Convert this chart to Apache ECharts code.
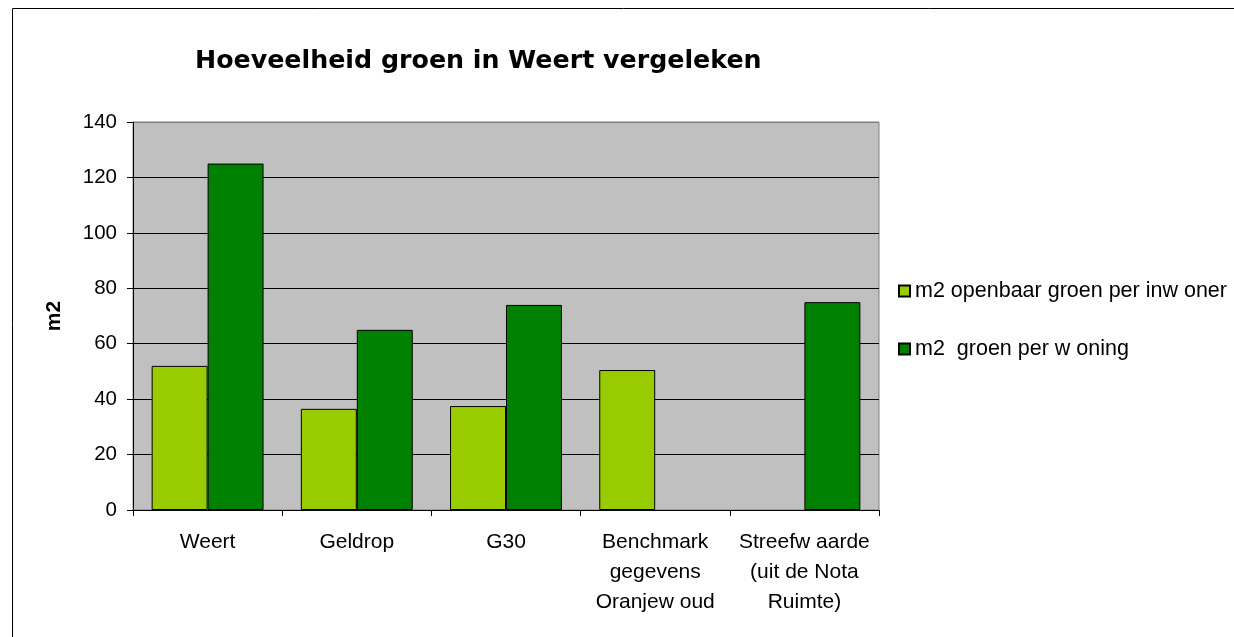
<!DOCTYPE html>
<html>
<head>
<meta charset="utf-8">
<script src="https://cdn.jsdelivr.net/npm/echarts@6/dist/echarts.min.js"></script>
<style>
  html, body { margin: 0; padding: 0; background: #fff; }
  #chart { width: 1234px; height: 637px; }
</style>
</head>
<body>
<div id="chart"></div>
<script>
// categories and values
const categories = ['Weert', 'Geldrop', 'G30', 'Benchmark\ngegevens\nOranjew oud', 'Streefw aarde\n(uit de Nota\nRuimte)']
const openbaarGroen = [52, 36.5, 37.5, 50.5, null]
const groenPerWoning = [125, 65, 74, null, 75]
const seriesNames = ['m2 openbaar groen per inw oner', 'm2  groen per w oning']
const yTicks = { min: 0, max: 140, interval: 20 }

const font = '"Liberation Sans", Arial, sans-serif'

const chart = echarts.init(document.getElementById('chart'), null, { renderer: 'canvas' })

const bar = (name, data, color) => ({
  name,
  type: 'bar',
  data,
  barGap: '0%',
  barCategoryGap: '25%',
  itemStyle: { color, borderColor: '#000', borderWidth: 1 },
  emphasis: { disabled: true }
})

// gridlines are black, the top edge of the plot is the grey frame
const nLines = (yTicks.max - yTicks.min) / yTicks.interval + 1
const gridColors = Array.from({ length: nLines }, (v, i) => i === nLines - 1 ? '#808080' : '#000')

chart.setOption({
  animation: false,
  backgroundColor: '#fff',
  title: {
    text: 'Hoeveelheid groen in Weert vergeleken',
    left: 195,
    top: 49,
    padding: 0,
    textStyle: { fontFamily: '"DejaVu Sans", sans-serif', fontWeight: 'bold', fontSize: 25.3, color: '#000' }
  },
  graphic: [{
    type: 'rect',
    shape: { x: 12.5, y: 8.5, width: 1400, height: 800 },
    style: { fill: 'none', stroke: '#000', lineWidth: 1 },
    silent: true
  }],
  legend: {
    orient: 'vertical',
    left: 898,
    top: 280,
    itemWidth: 11,
    itemHeight: 11,
    itemGap: 36,
    icon: 'rect',
    selectedMode: false,
    padding: 0,
    textStyle: { fontFamily: font, fontSize: 21.5, color: '#000', lineHeight: 21 },
    data: seriesNames
  },
  grid: {
    left: 133,
    right: 355,
    top: 122,
    bottom: 127,
    show: true,
    backgroundColor: '#c0c0c0',
    borderColor: '#808080',
    borderWidth: 1
  },
  xAxis: {
    type: 'category',
    data: categories,
    axisLine: { lineStyle: { color: '#000', width: 1 } },
    axisTick: { show: true, length: 6, lineStyle: { color: '#000' } },
    axisLabel: {
      interval: 0,
      margin: 17,
      fontFamily: font,
      fontSize: 21,
      lineHeight: 30,
      color: '#000'
    }
  },
  yAxis: {
    type: 'value',
    min: yTicks.min,
    max: yTicks.max,
    interval: yTicks.interval,
    name: 'm2',
    nameLocation: 'middle',
    nameGap: 68,
    nameRotate: 90,
    nameTextStyle: { fontFamily: font, fontWeight: 'bold', fontSize: 21, color: '#000' },
    axisLine: { show: true, lineStyle: { color: '#000', width: 1 } },
    axisTick: { show: true, length: 6, lineStyle: { color: '#000' } },
    axisLabel: { margin: 16, fontFamily: font, fontSize: 20.5, color: '#000' },
    splitLine: { show: true, lineStyle: { color: gridColors, width: 1 } }
  },
  series: [
    bar(seriesNames[0], openbaarGroen, '#99cc00'),
    bar(seriesNames[1], groenPerWoning, '#008000')
  ]
})
</script>
</body>
</html>
